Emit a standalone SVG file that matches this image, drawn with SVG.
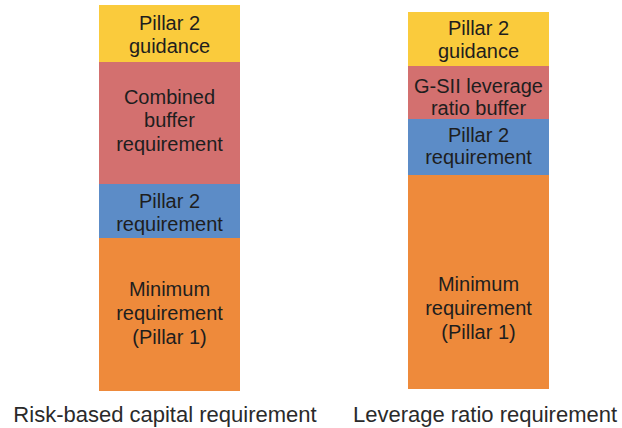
<svg xmlns="http://www.w3.org/2000/svg" width="622" height="428" viewBox="0 0 622 428" font-family="'Liberation Sans', Arimo, Arial, sans-serif">
  <style>
    .yellow { fill: #FACB3C; }
    .red { fill: #D3706F; }
    .blue { fill: #5C8CC7; }
    .orange { fill: #EE8A3B; }
    text { fill: #1e1e1e; text-anchor: middle; }
    .box { font-size: 20px; }
    .caption { font-size: 22px; fill: #2a2a2a; }
  </style>
  <rect width="622" height="428" fill="#ffffff"/>

  <!-- Risk-based capital requirement stack -->
  <g id="rb-guidance">
    <rect class="yellow" x="99" y="5" width="141" height="57"/>
    <text class="box" x="169.5" y="30">Pillar 2</text>
    <text class="box" x="169.5" y="53">guidance</text>
  </g>
  <g id="rb-buffer">
    <rect class="red" x="99" y="62" width="141" height="122"/>
    <text class="box" x="169.5" y="104">Combined</text>
    <text class="box" x="169.5" y="127">buffer</text>
    <text class="box" x="169.5" y="151">requirement</text>
  </g>
  <g id="rb-pillar2">
    <rect class="blue" x="99" y="184" width="141" height="54"/>
    <text class="box" x="169.5" y="208">Pillar 2</text>
    <text class="box" x="169.5" y="231">requirement</text>
  </g>
  <g id="rb-minimum">
    <rect class="orange" x="99" y="238" width="141" height="153"/>
    <text class="box" x="169.5" y="296">Minimum</text>
    <text class="box" x="169.5" y="320">requirement</text>
    <text class="box" x="169.5" y="344">(Pillar 1)</text>
  </g>
  <g id="rb-caption">
    <text class="caption" x="165" y="422">Risk-based capital requirement</text>
  </g>

  <!-- Leverage ratio requirement stack -->
  <g id="lr-guidance">
    <rect class="yellow" x="408" y="12" width="141" height="54"/>
    <text class="box" x="478.5" y="35">Pillar 2</text>
    <text class="box" x="478.5" y="58">guidance</text>
  </g>
  <g id="lr-buffer">
    <rect class="red" x="408" y="66" width="141" height="53"/>
    <text class="box" x="478.5" y="93">G-SII leverage</text>
    <text class="box" x="478.5" y="115">ratio buffer</text>
  </g>
  <g id="lr-pillar2">
    <rect class="blue" x="408" y="119" width="141" height="56"/>
    <text class="box" x="478.5" y="142">Pillar 2</text>
    <text class="box" x="478.5" y="164">requirement</text>
  </g>
  <g id="lr-minimum">
    <rect class="orange" x="408" y="175" width="141" height="214"/>
    <text class="box" x="478.5" y="291">Minimum</text>
    <text class="box" x="478.5" y="315">requirement</text>
    <text class="box" x="478.5" y="339">(Pillar 1)</text>
  </g>
  <g id="lr-caption">
    <text class="caption" x="485" y="422">Leverage ratio requirement</text>
  </g>
</svg>
